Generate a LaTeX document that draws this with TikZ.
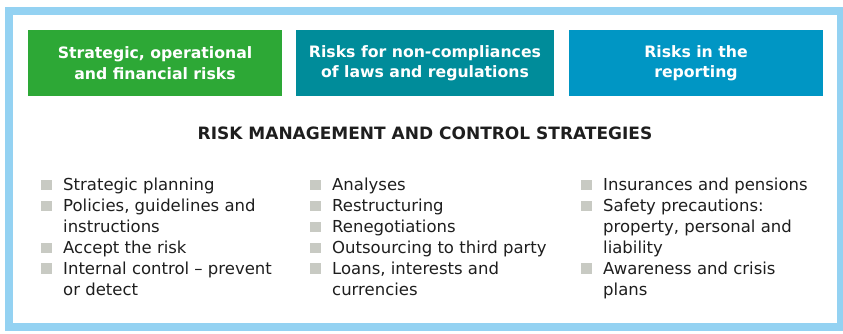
\documentclass[tikz,border=0pt]{standalone}
\usepackage{fontspec}
\setmainfont{DejaVu Sans}
\usetikzlibrary{positioning}
\definecolor{frameblue}{HTML}{94D2F2}
\definecolor{riskgreen}{HTML}{2DA836}
\definecolor{riskteal}{HTML}{008C9A}
\definecolor{riskblue}{HTML}{0096C4}
\definecolor{bulletgrey}{HTML}{C8CAC3}
\definecolor{ink}{HTML}{1E1E1E}
\tikzset{
  riskbox/.style={minimum height=66pt,inner sep=0pt,align=center,text=white,font=\fontsize{15.7}{20.5}\selectfont\bfseries},
  heading/.style={inner sep=0pt,anchor=base,text=ink,font=\fontsize{17}{20}\selectfont\bfseries},
  item/.style={inner sep=0pt,anchor=north west,align=left,text=ink,font=\fontsize{16.5}{20.9}\selectfont},
  sq/.style={fill=bulletgrey,minimum width=11pt,minimum height=10.5pt,inner sep=0pt,anchor=south west},
}

\begin{document}
\begin{tikzpicture}[x=1pt,y=-1pt]
  \useasboundingbox (0,0) rectangle (843,333);
  % ── frame ──
  \node[draw=frameblue,line width=8pt,minimum width=832pt,minimum height=316pt,inner sep=0pt] (panel) at (425,169) {};
  % ── risk categories ──
  \node[riskbox,fill=riskgreen,minimum width=254pt] (strat) at (155,63) {Strategic, operational\\and financial risks};
  \node[riskbox,fill=riskteal,minimum width=258pt] (laws) at (425,63) {Risks for non-compliances\\of laws and regulations};
  \node[riskbox,fill=riskblue,minimum width=254pt] (report) at (696,63) {Risks in the\\reporting};
  \node[heading] (title) at (425,139.5) {RISK MANAGEMENT AND CONTROL STRATEGIES};
  % ── strategies (strut top is 14.63pt above the first baseline) ──
  \foreach \ln/\txt [count=\k] in {0/{Strategic planning},1/{Policies, guidelines and\\instructions},3/{Accept the risk},4/{Internal control -- prevent\\or detect}} {
    \node[item] (c1-\k) at (63,175.9+20.9*\ln) {\strut\txt};
    \node[sq] (b1-\k) at ([xshift=-22.5pt,yshift=-14.63pt]c1-\k.north west) {};
  }
  \foreach \ln/\txt [count=\k] in {0/{Analyses},1/{Restructuring},2/{Renegotiations},3/{Outsourcing to third party},4/{Loans, interests and\\currencies}} {
    \node[item] (c2-\k) at (332,175.9+20.9*\ln) {\strut\txt};
    \node[sq] (b2-\k) at ([xshift=-22.5pt,yshift=-14.63pt]c2-\k.north west) {};
  }
  \foreach \ln/\txt [count=\k] in {0/{Insurances and pensions},1/{Safety precautions:\\property, personal and\\liability},4/{Awareness and crisis\\plans}} {
    \node[item] (c3-\k) at (603,175.9+20.9*\ln) {\strut\txt};
    \node[sq] (b3-\k) at ([xshift=-22.5pt,yshift=-14.63pt]c3-\k.north west) {};
  }
\end{tikzpicture}
\end{document}
